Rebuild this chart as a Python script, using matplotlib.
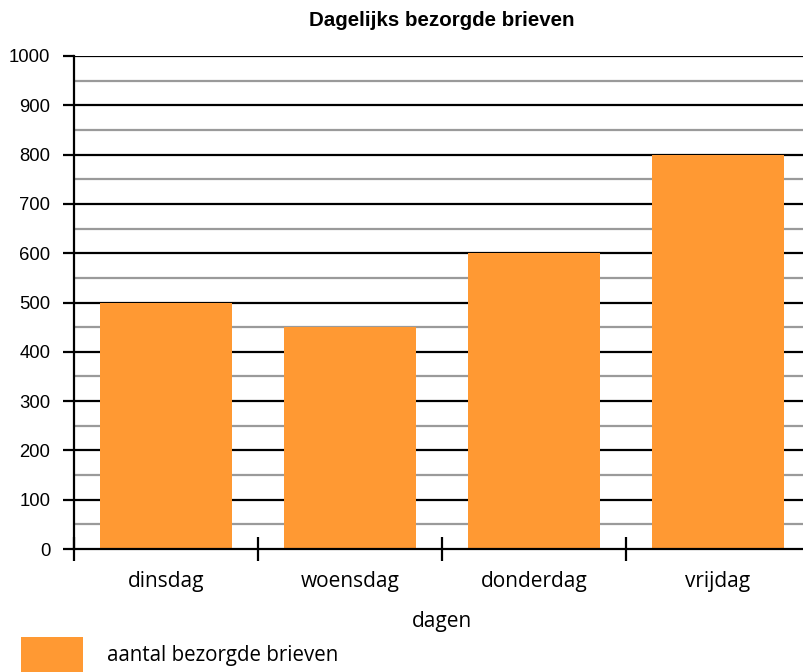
import matplotlib
matplotlib.use("Agg")
import matplotlib.pyplot as plt
from matplotlib.patches import Rectangle
import numpy as np

categories = ["dinsdag", "woensdag", "donderdag", "vrijdag"]
values = [500, 450, 600, 800]
yticks = [0, 100, 200, 300, 400, 500, 600, 700, 800, 900, 1000]
title = "Dagelijks bezorgde brieven"
xlabel = "dagen"
legend_label = "aantal bezorgde brieven"

W, H = 804, 672
fig = plt.figure(figsize=(W/100, H/100), dpi=100)
left, right, bottom, top = 74, 810, 549, 56
ax = fig.add_axes([left/W, 1-bottom/H, (right-left)/W, (bottom-top)/H])

color = "#FF9933"
x = np.arange(len(categories))
ax.set_xlim(-0.5, len(categories)-0.5)
ax.set_ylim(0, 1000)

# gridlines
for v in np.arange(50, 1000, 100):
    ax.axhline(v, color="#9a9a9a", lw=1.6, zorder=1)
for v in yticks[1:]:
    ax.axhline(v, color="black", lw=1.6, zorder=1)

ax.bar(x, values, width=0.72, color=color, zorder=2)

for s in ["top", "right"]:
    ax.spines[s].set_visible(False)
ax.spines["left"].set_linewidth(1.6)
ax.spines["bottom"].set_linewidth(1.6)
ax.spines["left"].set_zorder(3)
ax.spines["bottom"].set_zorder(3)

ax.set_yticks(yticks)
ax.set_yticklabels([str(v) for v in yticks], fontfamily="Liberation Sans", fontsize=13.3)
ax.tick_params(axis="y", direction="out", length=8, width=1.6, pad=9)

# x ticks at category boundaries, labels at centres
ax.set_xticks(np.arange(-0.5, len(categories), 1.0))
ax.set_xticklabels([])
ax.tick_params(axis="x", direction="inout", length=17, width=1.6)
ax.set_xticks(x, minor=True)
ax.set_xticklabels(categories, minor=True, fontfamily="Open Sans", fontsize=15)
ax.tick_params(axis="x", which="minor", length=0, pad=16)

fig.text(442/W, 1-21/H, title, ha="center", va="center", fontfamily="Liberation Sans",
         fontweight="bold", fontsize=14.8)
fig.text(442/W, 1-622/H, xlabel, ha="center", va="center", fontfamily="Open Sans", fontsize=15)

fig.patches.append(Rectangle((21/W, 1-672/H), 62/W, 35/H, transform=fig.transFigure,
                             facecolor=color, edgecolor="none"))
fig.text(107/W, 1-656/H, legend_label, ha="left", va="center", fontfamily="Open Sans", fontsize=14.8)

fig.savefig("out.png", dpi=100)
